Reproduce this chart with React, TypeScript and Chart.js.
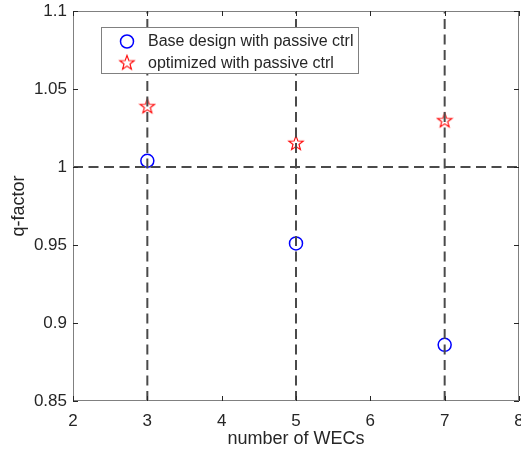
import React, { useEffect, useRef } from "react";
import { Chart, registerables } from "chart.js";

Chart.register(...registerables);

const wecCounts = [3, 5, 7];
const baseDesign = [1.004, 0.951, 0.886];
const optimized = [1.039, 1.0155, 1.030];
const seriesLabels = ["Base design with passive ctrl", "optimized with passive ctrl"];
const refX = [3, 5, 7];
const refY = [1];
const xTicks = [2, 3, 4, 5, 6, 7, 8];
const yTicks = [0.85, 0.9, 0.95, 1, 1.05, 1.1];

const FONT = '"Liberation Sans", Arial, Helvetica, sans-serif';
const TXT = "#262626";

function makeStar(): HTMLCanvasElement {
  const c = document.createElement("canvas");
  c.width = 18;
  c.height = 18;
  const g = c.getContext("2d")!;
  const cx = 9, cy = 9.5, R = 7.6, r = 3.1;
  g.beginPath();
  for (let i = 0; i < 10; i++) {
    const rad = i % 2 === 0 ? R : r;
    const a = -Math.PI / 2 + (i * Math.PI) / 5;
    const px = cx + rad * Math.cos(a);
    const py = cy + rad * Math.sin(a);
    if (i === 0) g.moveTo(px, py);
    else g.lineTo(px, py);
  }
  g.closePath();
  g.strokeStyle = "#ff0000";
  g.lineWidth = 1.1;
  g.stroke();
  return c;
}

export default function App() {
  const ref = useRef<HTMLCanvasElement>(null);
  useEffect(() => {
    document.body.style.margin = "0";
    const star = makeStar();
    const frame = {
      id: "frame",
      afterDatasetsDraw(chart: any) {
        const { ctx, chartArea: a, scales } = chart;
        const xs = scales.x, ys = scales.y;
        ctx.save();
        ctx.strokeStyle = "#808080";
        ctx.lineWidth = 1;
        ctx.strokeRect(Math.round(a.left) + 0.5, Math.round(a.top) + 0.5, Math.round(a.right - a.left) - 1, Math.round(a.bottom - a.top) - 1);
        ctx.strokeStyle = TXT;
        const tl = 5;
        ctx.beginPath();
        xTicks.forEach((v) => {
          const p = Math.round(xs.getPixelForValue(v)) + 0.5;
          ctx.moveTo(p, a.bottom); ctx.lineTo(p, a.bottom - tl);
          ctx.moveTo(p, a.top); ctx.lineTo(p, a.top + tl);
        });
        yTicks.forEach((v) => {
          const p = Math.round(ys.getPixelForValue(v)) + 0.5;
          ctx.moveTo(a.left, p); ctx.lineTo(a.left + tl, p);
          ctx.moveTo(a.right, p); ctx.lineTo(a.right - tl, p);
        });
        ctx.stroke();
        // legend
        const lx = 101, ly = 27, lw = 257, lh = 46;
        ctx.fillStyle = "#ffffff";
        ctx.fillRect(lx, ly, lw, lh);
        ctx.strokeStyle = "#808080";
        ctx.strokeRect(lx + 0.5, ly + 0.5, lw, lh);
        ctx.strokeStyle = "#0000ff";
        ctx.lineWidth = 1.5;
        ctx.beginPath();
        ctx.arc(127, 41.5, 6.5, 0, Math.PI * 2);
        ctx.stroke();
        ctx.drawImage(star, 127 - 9, 63 - 9.5);
        ctx.fillStyle = TXT;
        ctx.font = `16px ${FONT}`;
        ctx.textBaseline = "middle";
        ctx.textAlign = "left";
        ctx.fillText(seriesLabels[0], 148, 42);
        ctx.fillText(seriesLabels[1], 148, 64);
        ctx.restore();
      },
    };
    const dashStyle = { borderColor: "#4a4a4a", borderWidth: 2, borderDash: [10, 5.5], pointRadius: 0, showLine: true, fill: false };
    const refSets: any[] = [
      ...refX.map((v) => ({ type: "line", label: "", data: [{ x: v, y: 0.85 }, { x: v, y: 1.1 }], ...dashStyle })),
      ...refY.map((v) => ({ type: "line", label: "", data: [{ x: 2, y: v }, { x: 8, y: v }], ...dashStyle })),
    ];
    const chart = new Chart(ref.current!, {
      type: "scatter",
      data: {
        datasets: [
          ...refSets,
          {
            label: seriesLabels[0],
            data: wecCounts.map((x, i) => ({ x, y: baseDesign[i] })),
            pointStyle: "circle",
            pointRadius: 6.5,
            borderColor: "#0000ff",
            backgroundColor: "rgba(0,0,0,0)",
            borderWidth: 1.5,
          },
          {
            label: seriesLabels[1],
            data: wecCounts.map((x, i) => ({ x, y: optimized[i] })),
            pointStyle: star,
            pointRadius: 8,
            borderColor: "#ff0000",
            backgroundColor: "rgba(0,0,0,0)",
          },
        ],
      },
      options: {
        animation: false,
        responsive: false,
        layout: { autoPadding: false, padding: { top: 11, right: 2, left: 0, bottom: 0 } },
        plugins: { legend: { display: false }, tooltip: { enabled: false } },
        scales: {
          x: {
            type: "linear",
            min: 2,
            max: 8,
            afterFit: (s: any) => { s.height = 53; s.paddingLeft = 0; s.paddingRight = 0; },
            afterBuildTicks: (s: any) => { s.ticks = xTicks.map((v) => ({ value: v })); },
            grid: { display: false, drawTicks: false },
            border: { display: false },
            ticks: { color: TXT, font: { family: FONT, size: 17 }, padding: 10, maxRotation: 0 },
            title: { display: true, text: "number of WECs", color: TXT, font: { family: FONT, size: 18 }, padding: { top: 0, bottom: 4 } },
          },
          y: {
            type: "linear",
            min: 0.85,
            max: 1.1,
            afterFit: (s: any) => { s.width = 73; s.paddingTop = 0; s.paddingBottom = 0; },
            afterBuildTicks: (s: any) => { s.ticks = yTicks.map((v) => ({ value: v })); },
            grid: { display: false, drawTicks: false },
            border: { display: false },
            ticks: { color: TXT, font: { family: FONT, size: 17 }, padding: 6, callback: (v: any) => String(Number(Number(v).toFixed(2))) },
            title: { display: true, text: "q-factor", color: TXT, font: { family: FONT, size: 18 }, padding: { top: 8, bottom: 0 } },
          },
        },
      },
      plugins: [frame],
    } as any);
    return () => chart.destroy();
  }, []);
  return (
    <div style={{ width: 521, height: 454 }}>
      <canvas ref={ref} width={521} height={454} style={{ display: "block", width: 521, height: 454 }} />
    </div>
  );
}
